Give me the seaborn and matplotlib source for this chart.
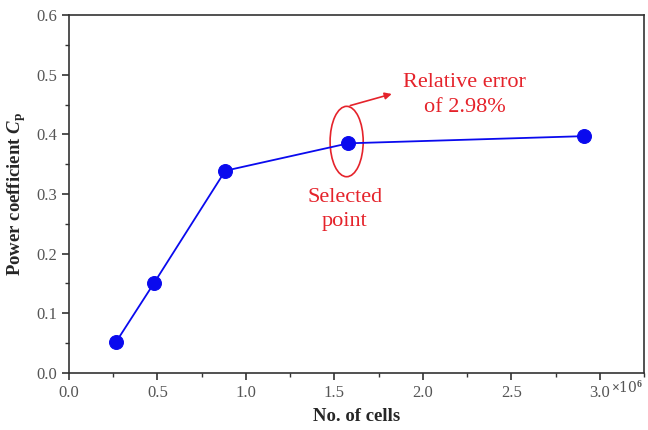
import matplotlib
matplotlib.use("Agg")
import matplotlib.pyplot as plt
from matplotlib.patches import Ellipse
from matplotlib.ticker import MultipleLocator
import seaborn as sns
import pandas as pd

# Mesh independence data (cells in millions)
cells_m = [0.266, 0.481, 0.883, 1.579, 2.91]
cp = [0.052, 0.151, 0.339, 0.385, 0.397]
selected = 3

sns.set_style("ticks")
plt.rcParams['font.family'] = ['Liberation Serif', 'DejaVu Serif']
plt.rcParams['mathtext.fontset'] = 'custom'
plt.rcParams['mathtext.rm'] = 'Liberation Serif:bold'
plt.rcParams['mathtext.it'] = 'Liberation Serif:italic:bold'

df = pd.DataFrame({'cells': cells_m, 'cp': cp})

fig = plt.figure(figsize=(6.48, 4.30), dpi=100)
ax = fig.add_axes([0.1065, 0.1326, 0.8875, 0.8324])

sns.lineplot(data=df, x='cells', y='cp', ax=ax, color='#0a0aee', lw=1.3,
             marker='o', markersize=10, markeredgecolor='#0a0aee',
             markerfacecolor='#0a0aee')

ax.set_xlim(0, 3.25)
ax.set_ylim(0, 0.6)
ax.xaxis.set_major_locator(MultipleLocator(0.5))
ax.xaxis.set_minor_locator(MultipleLocator(0.25))
ax.yaxis.set_major_locator(MultipleLocator(0.1))
ax.yaxis.set_minor_locator(MultipleLocator(0.05))
ax.xaxis.set_major_formatter(lambda v, p: f"{v:.1f}")
ax.yaxis.set_major_formatter(lambda v, p: f"{v:.1f}")
ax.tick_params(which='major', direction='out', length=5, width=1.2,
               labelsize=12, colors='#333333', labelcolor='#555555')
ax.tick_params(which='minor', direction='out', length=3, width=1.0, colors='#333333')
for s in ax.spines.values():
    s.set_color('#333333')
    s.set_linewidth(1.2)

ax.set_xlabel("No. of cells", fontsize=13.5, fontweight='bold', labelpad=5)
ax.set_ylabel(r"Power coefficient $C_\mathrm{p}$", fontsize=13.5,
              fontweight='bold', labelpad=6)
ax.text(3.065, -0.025, r"$\times$10$^{6}$", fontsize=10, color='#555555',
        ha='left', va='center', family=['DejaVu Serif'])

# annotation around the selected mesh
red = '#e5232b'
x_sel, y_sel = cells_m[selected], cp[selected]
ax.add_patch(Ellipse((x_sel - 0.01, y_sel + 0.003), 0.187, 0.118, fill=False,
                     edgecolor=red, lw=1.2))
ax.annotate("", xy=(x_sel + 0.26, y_sel + 0.084),
            xytext=(x_sel - 0.005, y_sel + 0.062),
            arrowprops=dict(arrowstyle='-|>', color=red, lw=1.2,
                            mutation_scale=10))
ax.text(x_sel + 0.656, y_sel + 0.081, "Relative error\nof 2.98%", color=red,
        fontsize=16, ha='center', va='center', linespacing=1.45)
ax.text(x_sel - 0.02, y_sel - 0.111, "Selected\npoint", color=red, fontsize=16,
        ha='center', va='center', linespacing=1.4)

fig.savefig("out.png", dpi=100)
